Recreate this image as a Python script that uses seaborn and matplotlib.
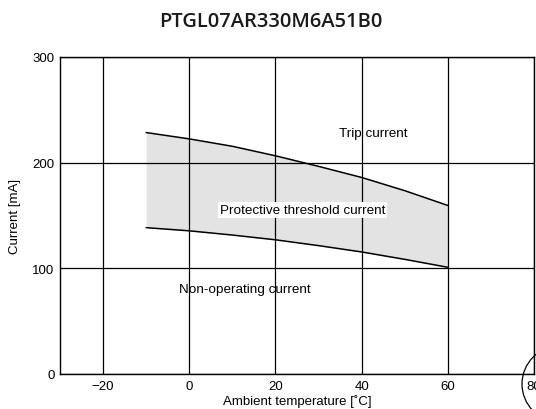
import matplotlib
matplotlib.use("Agg")
import matplotlib.pyplot as plt
import seaborn as sns
import pandas as pd
from matplotlib.patches import Arc

temps = [-10, 0, 10, 20, 30, 40, 50, 60]
trip = [228.5, 222.5, 215.5, 206.5, 196.5, 186, 173.5, 159.5]
nonop = [138.5, 135.5, 131.5, 127, 121.5, 115.5, 108.5, 101]
x_ticks = [-20, 0, 20, 40, 60, 80]
x_labels = ["\u221220", "0", "20", "40", "60", "80"]
y_ticks = [0, 100, 200, 300]

sns.set_theme(style="white")
plt.rcParams['font.family'] = ['Liberation Sans', 'DejaVu Sans']
plt.rcParams['text.color'] = 'black'

df = pd.DataFrame({"temp": temps, "trip": trip, "nonop": nonop})

fig = plt.figure(figsize=(5.36, 4.10), dpi=100)
ax = fig.add_axes([60/536, 35/410, 474/536, 317/410])

ax.fill_between(df["temp"], df["nonop"], df["trip"], color="#e3e3e3", lw=0, zorder=1)
sns.lineplot(data=df, x="temp", y="trip", color="black", lw=1.1, ax=ax, zorder=3)
sns.lineplot(data=df, x="temp", y="nonop", color="black", lw=1.1, ax=ax, zorder=3)

ax.set_xlim(-30, 80)
ax.set_ylim(0, 300)
ax.set_xticks(x_ticks)
ax.set_xticklabels(x_labels)
ax.set_yticks(y_ticks)
ax.grid(True, color="black", lw=0.9, zorder=2)
ax.set_axisbelow(False)
for s in ax.spines.values():
    s.set_color("black")
    s.set_linewidth(1.0)
ax.tick_params(length=0, labelsize=9.5, colors="black", pad=4)
ax.set_xlabel("Ambient temperature [\u02daC]", fontsize=9.5, labelpad=2, color="black")
ax.set_ylabel("Current [mA]", fontsize=9.5, labelpad=8, color="black")

ax.text(42.8, 228, "Trip current", fontsize=9.7, ha="center", va="center", zorder=4, color="black")
ax.text(26.3, 155.5, "Protective threshold current", fontsize=9.7, ha="center", va="center",
        zorder=4, color="black", bbox=dict(facecolor="white", edgecolor="none", pad=1.5))
ax.text(13, 80.5, "Non-operating current", fontsize=9.7, ha="center", va="center", zorder=4, color="black")

fig.text(271/536, 1 - 22/410, "PTGL07AR330M6A51B0", fontsize=14.5, ha="center", va="center",
         family=["Open Sans", "DejaVu Sans"], weight="semibold", color="#1a1a1a")

arc = Arc((560/536, 1 - 385/410), 76/536, 76/410, theta1=90, theta2=270,
          transform=fig.transFigure, color="black", lw=0.9)
fig.add_artist(arc)

fig.savefig("out.png", dpi=100)
